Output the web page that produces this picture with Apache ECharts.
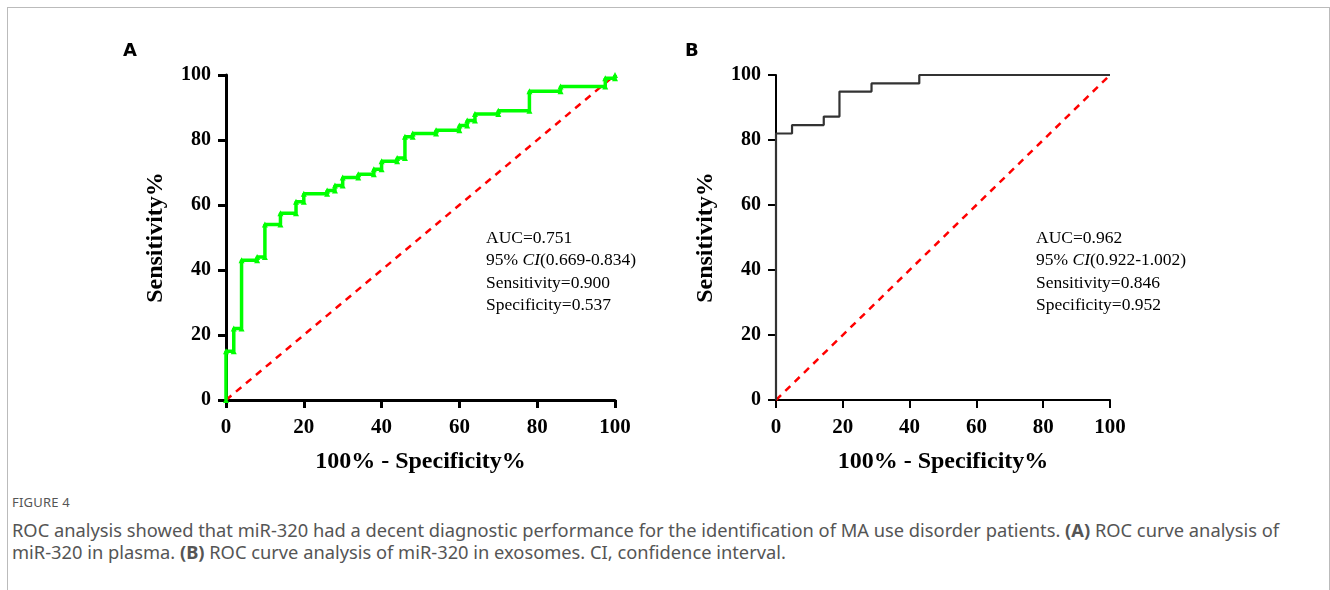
<!DOCTYPE html>
<html>
<head>
<meta charset="utf-8">
<script src="https://cdn.jsdelivr.net/npm/echarts@6/dist/echarts.min.js"></script>
<style>
html,body{margin:0;padding:0;background:#fff;}
#frame{position:absolute;left:7px;top:7px;width:1321px;height:700px;border-left:1px solid #bbb;border-top:1px solid #bbb;border-right:1px solid #bbb;}
#chart{position:absolute;left:0;top:0;width:1330px;height:480px;}
#cap{position:absolute;left:12px;top:493px;width:1310px;font-family:"Noto Sans",sans-serif;color:#555;}
#cap .fig{font-size:13px;letter-spacing:0.2px;margin-bottom:8px;}
#cap .txt{font-size:18.3px;line-height:22px;white-space:nowrap;}
</style>
</head>
<body>
<div id="frame"></div>
<div id="chart"></div>
<div id="cap">
<div class="fig">FIGURE 4</div>
<div class="txt">ROC analysis showed that miR-320 had a decent diagnostic performance for the identification of MA use disorder patients. <b>(A)</b> ROC curve analysis of<br>miR-320 in plasma. <b>(B)</b> ROC curve analysis of miR-320 in exosomes. CI, confidence interval.</div>
</div>
<script>
// Panel A: ROC curve vertices (100% - Specificity%, Sensitivity%)
const rocA_x = [0,0,2,2,4,4,8,8,10,10,14,14,18,18,20,20,26,26,28,28,30,30,34,34,38,38,40,40,44,44,46,46,48,48,54,54,60,60,62,62,64,64,70,70,78,78,86,86,97.5,97.5,100,100];
const rocA_y = [0,15,15,22,22,43,43,44,44,54,54,57.5,57.5,61,61,63.5,63.5,64.5,64.5,66,66,68.5,68.5,69.5,69.5,71,71,73.5,73.5,74.5,74.5,81,81,82,82,83,83,84.5,84.5,86,86,88,88,89,89,95,95,96.5,96.5,99,99,100];
// Panel B
const rocB_x = [0,0,4.8,4.8,14.3,14.3,19,19,28.6,28.6,42.9,42.9,100];
const rocB_y = [0,82,82,84.6,84.6,87.2,87.2,94.9,94.9,97.4,97.4,100,100];
// Reference line
const refX = [0,100];
const refY = [0,100];
const ticks = [0,20,40,60,80,100];
const statsA = ["AUC=0.751","95% {i|CI}(0.669-0.834)","Sensitivity=0.900","Specificity=0.537"];
const statsB = ["AUC=0.962","95% {i|CI}(0.922-1.002)","Sensitivity=0.846","Specificity=0.952"];

const pair = (xs, ys) => xs.map((x,i)=>[x, ys[i]]);
const serif = '"Liberation Serif","Times New Roman",serif';

function xAxis(idx, lw){
  return {gridIndex: idx, type:'value', min:ticks[0], max:ticks[ticks.length-1], interval:ticks[1]-ticks[0],
    name:'100% - Specificity%', nameLocation:'middle', nameGap:50,
    nameTextStyle:{fontFamily:serif, fontWeight:'bold', fontSize:24, color:'#000'},
    axisLine:{lineStyle:{color:'#000', width:lw}},
    axisTick:{length:8, lineStyle:{color:'#000', width:lw}},
    axisLabel:{fontFamily:serif, fontWeight:'bold', fontSize:21, color:'#000', margin:17},
    splitLine:{show:false}};
}
function yAxis(idx, lw){
  return {gridIndex: idx, type:'value', min:ticks[0], max:ticks[ticks.length-1], interval:ticks[1]-ticks[0],
    name:'Sensitivity%', nameLocation:'middle', nameGap:58, nameRotate:90,
    nameTextStyle:{fontFamily:serif, fontWeight:'bold', fontSize:24, color:'#000'},
    axisLine:{lineStyle:{color:'#000', width:lw}},
    axisTick:{length:8, lineStyle:{color:'#000', width:lw}},
    axisLabel:{fontFamily:serif, fontWeight:'bold', fontSize:20, color:'#000', margin:15},
    splitLine:{show:false}};
}
function statsText(lines, left){
  return {type:'text', left:left, top:227, style:{
    text: lines.join('\n'), fontFamily:serif, fontSize:17.5, lineHeight:22.5, fill:'#000',
    rich:{i:{fontFamily:serif, fontStyle:'italic', fontSize:17.5, lineHeight:22.5}}}};
}

const chart = echarts.init(document.getElementById('chart'), null, {renderer:'canvas'});
chart.setOption({
  animation:false,
  grid:[{left:226, top:75, width:389, height:325},{left:776, top:75, width:334, height:325}],
  xAxis:[xAxis(0,3), xAxis(1,2)],
  yAxis:[yAxis(0,3), yAxis(1,2)],
  series:[
    {type:'line', xAxisIndex:0, yAxisIndex:0, data:pair(refX,refY), symbol:'none',
     lineStyle:{color:'#ff0000', width:2.5, type:[7,6]}, z:2},
    {type:'line', xAxisIndex:0, yAxisIndex:0, data:pair(rocA_x,rocA_y), symbol:'triangle', symbolSize:6,
     itemStyle:{color:'#00ff00'}, lineStyle:{color:'#00ff00', width:3.5}, z:3},
    {type:'line', xAxisIndex:1, yAxisIndex:1, data:pair(refX,refY), symbol:'none',
     lineStyle:{color:'#ff0000', width:2.5, type:[7,6]}, z:2},
    {type:'line', xAxisIndex:1, yAxisIndex:1, data:pair(rocB_x,rocB_y), symbol:'none',
     lineStyle:{color:'#333333', width:2.2}, z:3}
  ],
  graphic:[
    {type:'text', left:123, top:42, style:{text:'A', fontFamily:'"DejaVu Sans",sans-serif', fontWeight:'bold', fontSize:18, fill:'#000'}},
    {type:'text', left:685, top:42, style:{text:'B', fontFamily:'"DejaVu Sans",sans-serif', fontWeight:'bold', fontSize:18, fill:'#000'}},
    statsText(statsA, 486),
    statsText(statsB, 1036)
  ]
});
</script>
</body>
</html>
